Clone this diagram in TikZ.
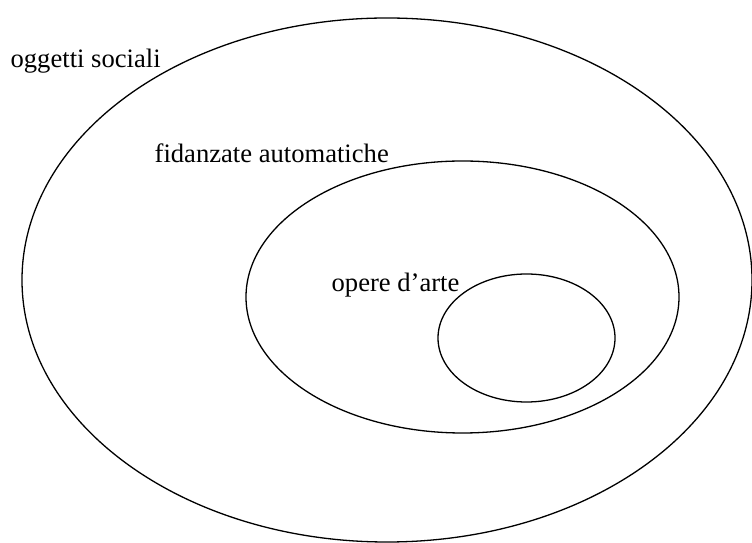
\documentclass[tikz,border=0pt]{standalone}
\usepackage{fontspec}
\setmainfont{Liberation Serif}
\begin{document}
\begin{tikzpicture}[x=1pt, y=1pt, line width=1.3pt]
        \tikzset{label/.style={anchor=base west, inner sep=0pt, font=\fontsize{26.6}{30}\selectfont}}
        \useasboundingbox (0,0) rectangle (752,543);

        % the three sets
        \draw (387,263) ellipse [x radius=365, y radius=262];
        \draw (462.5,246) ellipse [x radius=216.5, y radius=136];
        \draw (526.5,205) ellipse [x radius=88.5, y radius=64];

        \node[label] (sociali) at (10,475) {oggetti sociali};
        \node[label] (fidanzate) at (154,380) {fidanzate automatiche};
        \node[label] (opere) at (331,251) {opere d’arte};
    \end{tikzpicture}
\end{document}
